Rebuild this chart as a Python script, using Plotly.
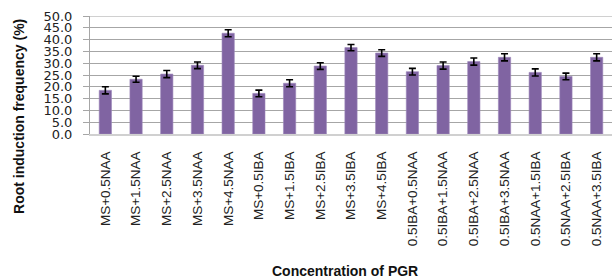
import plotly.graph_objects as go

categories = ["MS+0.5NAA", "MS+1.5NAA", "MS+2.5NAA", "MS+3.5NAA", "MS+4.5NAA",
              "MS+0.5IBA", "MS+1.5IBA", "MS+2.5IBA", "MS+3.5IBA", "MS+4.5IBA",
              "0.5IBA+0.5NAA", "0.5IBA+1.5NAA", "0.5IBA+2.5NAA", "0.5IBA+3.5NAA",
              "0.5NAA+1.5IBA", "0.5NAA+2.5IBA", "0.5NAA+3.5IBA"]
values = [18.5, 23.2, 25.4, 29.1, 42.7, 17.2, 21.5, 28.8, 36.6, 34.3,
          26.4, 29.0, 30.7, 32.5, 26.1, 24.4, 32.5]
errors = [1.5, 1.3, 1.5, 1.4, 1.5, 1.4, 1.5, 1.4, 1.3, 1.4,
          1.4, 1.5, 1.5, 1.5, 1.5, 1.4, 1.5]
y_ticks = [0, 5, 10, 15, 20, 25, 30, 35, 40, 45, 50]

fig = go.Figure()
fig.add_trace(go.Bar(
    x=categories, y=values,
    marker=dict(color="#8064A2", line=dict(color="#9C86BA", width=0.6)),
    error_y=dict(type="data", array=errors, color="black", thickness=1.6, width=3.5),
))

fig.update_layout(
    width=613, height=279,
    margin=dict(l=90, r=1, t=16, b=145),
    paper_bgcolor="white", plot_bgcolor="white",
    bargap=0.6, showlegend=False,
    font=dict(family="Liberation Sans", color="#222"),
    xaxis=dict(
        tickangle=-90, tickfont=dict(family="Liberation Sans", size=13.5, color="#222"),
        showline=True, linecolor="#D0D0D0", linewidth=2, ticks="",
        ticklabelstandoff=10, showgrid=False, automargin=False,
    ),
    yaxis=dict(
        range=[0, 50], tickvals=y_ticks, tickformat=".1f",
        tickfont=dict(family="DejaVu Sans", size=13, color="#222"),
        showgrid=True, gridcolor="#A6A6A6", gridwidth=1,
        showline=True, linecolor="#A6A6A6", linewidth=1,
        ticks="outside", ticklen=6, tickcolor="#A6A6A6", zeroline=False,
        ticklabelstandoff=8, automargin=False,
    ),
    annotations=[
        dict(text="<b>Root induction frequency (%)</b>", textangle=-90,
             xref="paper", yref="paper", x=(19 - 90) / 522, y=(133.5 - 116.5) / 117.8,
             showarrow=False, font=dict(family="Liberation Sans", size=14, color="#111"),
             xanchor="center", yanchor="middle"),
        dict(text="<b>Concentration of PGR</b>",
             xref="paper", yref="paper", x=(345 - 90) / 522, y=-(270 - 133.5) / 117.8,
             showarrow=False, font=dict(family="Liberation Sans", size=14, color="#111"),
             xanchor="center", yanchor="middle"),
    ],
)
fig.add_shape(type="line", xref="paper", yref="y", x0=0, x1=1, y0=50, y1=50,
              line=dict(color="#D0D0D0", width=2))

fig.write_html("out.html", config={"displayModeBar": False},
               post_script="document.body.style.margin='0';document.body.style.overflow='hidden';")
